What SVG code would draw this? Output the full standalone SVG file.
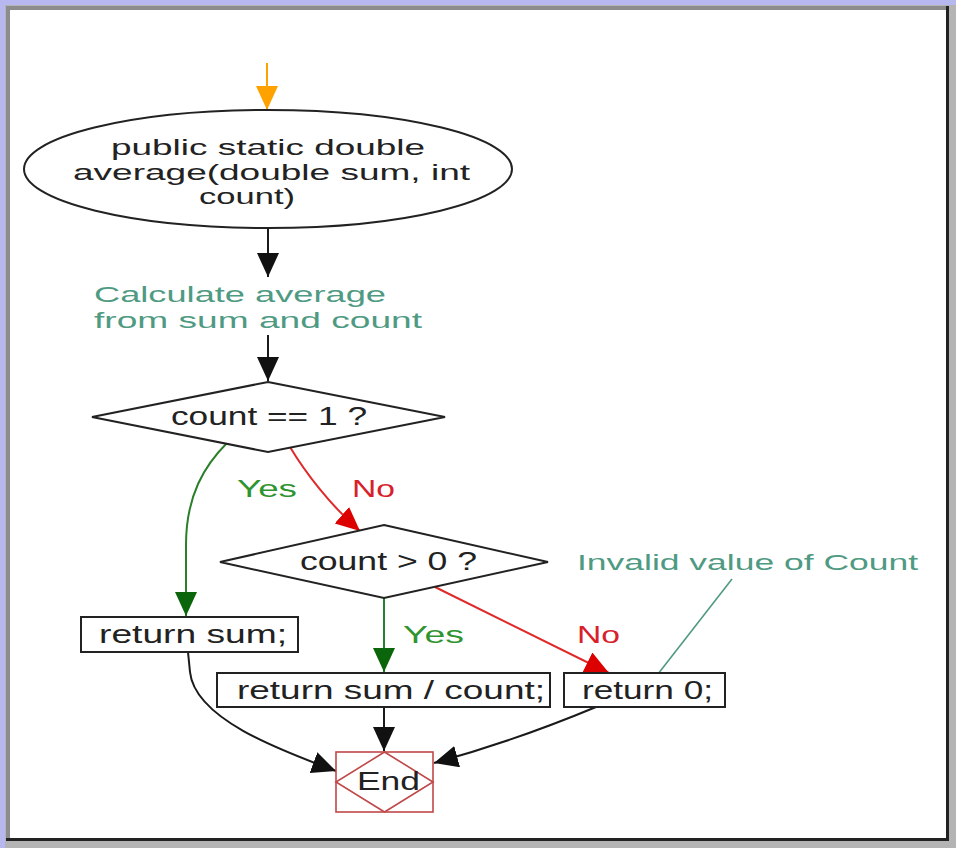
<svg xmlns="http://www.w3.org/2000/svg" width="956" height="848" viewBox="0 0 956 848">
  <style>
    .node { fill: #ffffff; stroke: #222222; stroke-width: 2; }
    .label { font-family: "Liberation Sans", Arial, sans-serif; fill: #222222; font-size: 25px; }
    .sig { font-size: 22px; }
    .note { font-family: "Liberation Sans", Arial, sans-serif; fill: #4f9a82; font-size: 22px; }
    .yes { font-family: "Liberation Sans", Arial, sans-serif; fill: #2f942f; font-size: 23px; }
    .no { font-family: "Liberation Sans", Arial, sans-serif; fill: #d8202a; font-size: 23px; }
    .edge { fill: none; stroke-width: 2; }
    .black { stroke: #1a1a1a; }
    .green { stroke: #2a7f2a; }
    .red { stroke: #e02a2a; }
    .orange { stroke: #ffa200; }
    .anno { fill: none; stroke: #4f9a82; stroke-width: 1.6; }
  </style>
  <defs>
    <marker id="ah-black" markerUnits="userSpaceOnUse" markerWidth="26" markerHeight="24" refX="24" refY="11" orient="auto">
      <path d="M0,0 L24,11 L0,22 Z" fill="#111111"/>
    </marker>
    <marker id="ah-green" markerUnits="userSpaceOnUse" markerWidth="26" markerHeight="24" refX="24" refY="11" orient="auto">
      <path d="M0,0 L24,11 L0,22 Z" fill="#0b650b"/>
    </marker>
    <marker id="ah-red" markerUnits="userSpaceOnUse" markerWidth="26" markerHeight="24" refX="24" refY="11" orient="auto">
      <path d="M0,0 L24,11 L0,22 Z" fill="#dd0000"/>
    </marker>
    <marker id="ah-orange" markerUnits="userSpaceOnUse" markerWidth="26" markerHeight="24" refX="24" refY="11" orient="auto">
      <path d="M0,0 L24,11 L0,22 Z" fill="#ffa200"/>
    </marker>
  </defs>

  <!-- window frame -->
  <rect x="0" y="0" width="956" height="848" fill="#b4b4b4"/>
  <rect x="0" y="0" width="956" height="5" fill="#b8b8f0"/>
  <rect x="0" y="0" width="5" height="848" fill="#b8b8f0"/>
  <rect x="6" y="6" width="943" height="835" fill="#222222"/>
  <rect x="6" y="6" width="940" height="832" fill="#8c8c8c"/>
  <rect x="10" y="10" width="936" height="828" fill="#ffffff"/>

  <!-- connectors -->
  <g id="connectors">
    <path class="edge orange" d="M267,63 L267,110" marker-end="url(#ah-orange)"/>
    <path class="edge black" d="M268,229 L268,277" marker-end="url(#ah-black)"/>
    <path class="edge black" d="M268,335 L268,381" marker-end="url(#ah-black)"/>
    <path class="edge green" d="M227,443 C205,465 186,495 186,545 L186,616" marker-end="url(#ah-green)"/>
    <path class="edge red" d="M290,447 C305,472 330,505 360,531" marker-end="url(#ah-red)"/>
    <path class="edge green" d="M384,598 L384,672" marker-end="url(#ah-green)"/>
    <path class="edge red" d="M435,587 L609,673" marker-end="url(#ah-red)"/>
    <path class="anno" d="M732,579 L658,674"/>
    <path class="edge black" d="M384,707 L384,751" marker-end="url(#ah-black)"/>
    <path class="edge black" d="M188,652 L190,672 C195,720 285,752 336,771" marker-end="url(#ah-black)"/>
    <path class="edge black" d="M596,707 C560,722 500,745 434,763" marker-end="url(#ah-black)"/>
    <text class="yes" x="237" y="497" textLength="60" lengthAdjust="spacingAndGlyphs">Yes</text>
    <text class="no" x="352" y="497" textLength="43" lengthAdjust="spacingAndGlyphs">No</text>
    <text class="yes" x="403" y="643" textLength="61" lengthAdjust="spacingAndGlyphs">Yes</text>
    <text class="no" x="577" y="643" textLength="43" lengthAdjust="spacingAndGlyphs">No</text>
  </g>

  <!-- start: method signature -->
  <g id="start">
    <ellipse class="node" cx="268" cy="169" rx="244" ry="59"/>
    <text class="label sig" x="111" y="155" textLength="314" lengthAdjust="spacingAndGlyphs">public static double</text>
    <text class="label sig" x="73" y="179.5" textLength="397" lengthAdjust="spacingAndGlyphs">average(double sum, int</text>
    <text class="label sig" x="199" y="204" textLength="96" lengthAdjust="spacingAndGlyphs">count)</text>
  </g>

  <!-- comment step -->
  <g id="calc-note">
    <text class="note" x="94" y="302" textLength="292" lengthAdjust="spacingAndGlyphs">Calculate average</text>
    <text class="note" x="94" y="328" textLength="328" lengthAdjust="spacingAndGlyphs">from sum and count</text>
  </g>

  <!-- decision: count == 1 -->
  <g id="decision-one">
    <polygon class="node" points="268,382 445,417 268,452 92,417"/>
    <text class="label" x="171" y="425" textLength="196" lengthAdjust="spacingAndGlyphs">count == 1 ?</text>
  </g>

  <!-- decision: count > 0 -->
  <g id="decision-positive">
    <polygon class="node" points="384,525 548,562 384,598 220,562"/>
    <text class="label" x="300" y="570" textLength="177" lengthAdjust="spacingAndGlyphs">count &gt; 0 ?</text>
  </g>

  <!-- annotation -->
  <g id="invalid-note">
    <text class="note" x="577" y="570" textLength="341" lengthAdjust="spacingAndGlyphs">Invalid value of Count</text>
  </g>

  <g id="return-sum">
    <rect class="node" x="81" y="617" width="217" height="35"/>
    <text class="label" x="99" y="643" textLength="188" lengthAdjust="spacingAndGlyphs">return sum;</text>
  </g>

  <g id="return-average">
    <rect class="node" x="217" y="673" width="333" height="34"/>
    <text class="label" x="237" y="699" textLength="308" lengthAdjust="spacingAndGlyphs">return sum / count;</text>
  </g>

  <g id="return-zero">
    <rect class="node" x="564" y="673" width="161" height="34"/>
    <text class="label" x="582" y="699" textLength="131" lengthAdjust="spacingAndGlyphs">return 0;</text>
  </g>

  <!-- terminal -->
  <g id="end">
    <rect x="336" y="752" width="97" height="60" fill="#ffffff" stroke="#c04848" stroke-width="1.6"/>
    <polygon points="384.5,752 433,782 384.5,812 336,782" fill="none" stroke="#c04848" stroke-width="1.6"/>
    <text class="label" x="357" y="790" textLength="63" lengthAdjust="spacingAndGlyphs">End</text>
  </g>
</svg>
